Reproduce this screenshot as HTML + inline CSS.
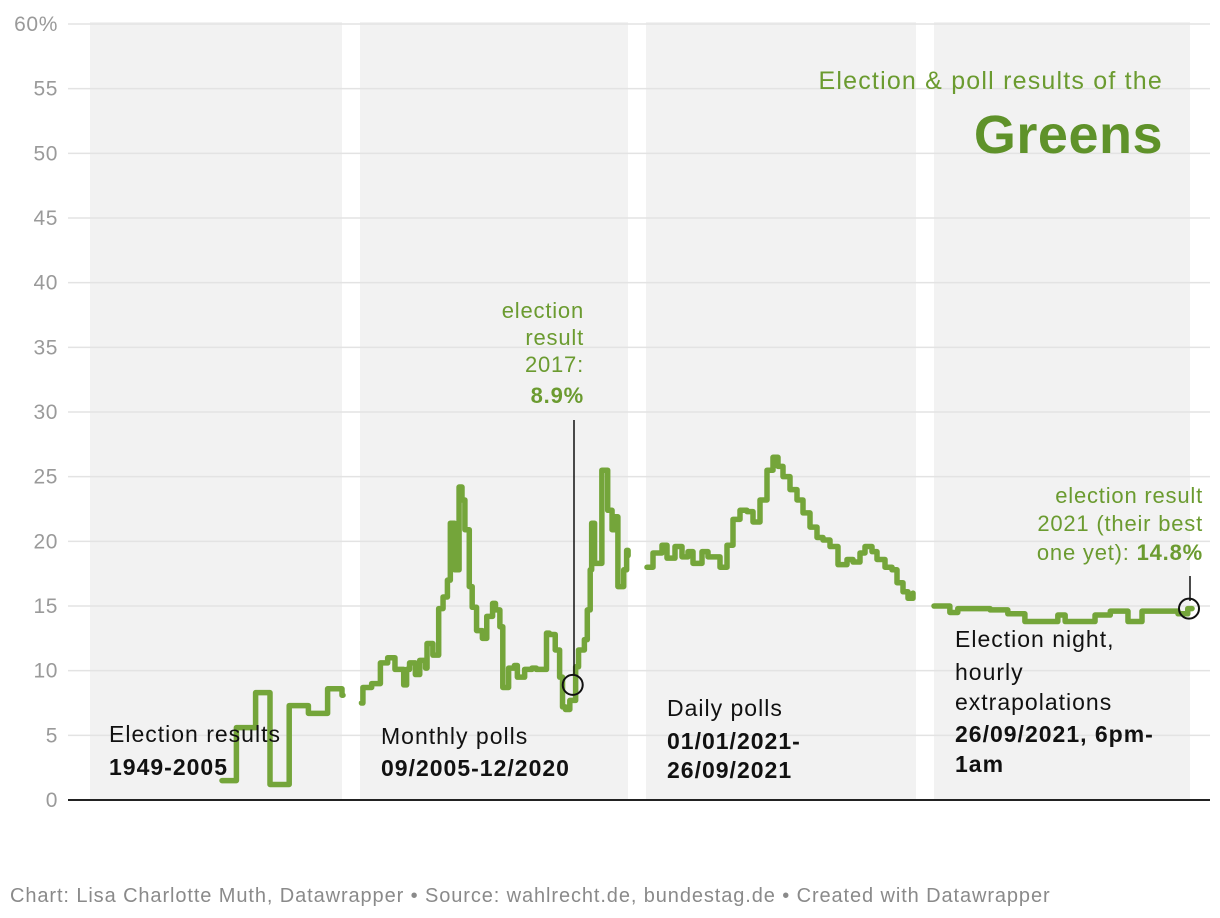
<!DOCTYPE html>
<html><head><meta charset="utf-8">
<style>
body{margin:0;background:#fff;}
svg{display:block;font-family:"Liberation Sans",sans-serif;}
</style></head>
<body>
<svg id="chart" width="1220" height="918" viewBox="0 0 1220 918"></svg>
<script>
// Panel 1: election results
const elecYears = [1980,1983,1987,1990,1994,1998,2002,2005];
const elecValues = [1.5,5.6,8.3,1.2,7.3,6.7,8.6,8.1];
// Panel 2: monthly polls (months since 09/2005)
const monthIdx = [1,2,8,14,19,24,30,32,34,38,41,45,46,50,54,57,60,62,65,68,70,72,75,77,80,84,87,91,93,96,98,102,106,108,113,118,121,125,128,130,134,137,139,141,144,148,150,154,156,158,159,161,166,170,173,175,177,181,183,184];
const monthValues = [7.5,8.7,9.0,10.6,11.0,10.1,8.9,10.1,10.6,9.7,10.8,10.2,12.1,11.2,14.8,15.7,17.0,21.4,17.8,24.2,23.2,20.9,16.5,14.9,13.1,12.5,14.2,15.2,14.7,13.4,8.7,10.2,10.4,9.5,10.1,10.2,10.1,10.1,12.9,12.8,11.6,9.5,7.2,7.0,7.7,10.3,11.6,12.4,14.7,17.8,21.4,18.3,25.5,22.4,20.9,21.9,16.5,17.8,19.3,18.9];
// Panel 3: daily polls (days since 01/01/2021)
const dayIdx = [1,7,16,21,29,36,42,47,56,62,74,81,87,94,101,107,114,121,127,132,137,144,151,157,164,171,177,184,192,201,207,214,219,226,231,239,246,251,257,262,267];
const dayValues = [18.0,19.1,19.7,18.7,19.6,18.8,19.2,18.3,19.2,18.8,18.0,19.7,21.7,22.4,22.3,21.5,23.2,25.5,26.5,25.8,25.0,24.0,23.2,22.2,21.1,20.3,20.1,19.6,18.2,18.6,18.4,19.1,19.6,19.2,18.6,18.0,17.8,16.8,16.1,15.6,16.0];
// Panel 4: election night (minutes since 18:00)
const minuteIdx = [0,26,39,92,121,149,203,215,264,289,318,341,400,416,423];
const minuteValues = [15.0,14.5,14.8,14.7,14.4,13.8,14.3,13.8,14.3,14.6,13.8,14.6,14.4,14.8,14.8];
const yTicks = [0,5,10,15,20,25,30,35,40,45,50,55,60];
const yTickLabels = ["0","5","10","15","20","25","30","35","40","45","50","55","60%"];

const NS="http://www.w3.org/2000/svg";
const svg=document.getElementById('chart');
function mk(tag,attrs,parent){const e=document.createElementNS(NS,tag);for(const k in attrs)e.setAttribute(k,attrs[k]);(parent||svg).appendChild(e);return e;}
const y=v=>800-v*12.933;
const x1=yr=>222+(yr-1980)*4.8;
const x2=m=>360+m*1.457;
const x3=d=>646+d*1.0;
const x4=mi=>934+mi*0.61;
const GREEN="#74a53a";

[[90,342],[360,628],[646,916],[934,1190]].forEach(([a,b],i)=>{
  const r=mk('rect',{x:a,y:22,width:b-a,height:778,fill:'#f2f2f2'});
  
  
});
yTicks.forEach((t,i)=>{
  if(t>0){const g=mk('line',{x1:68,x2:1210,y1:y(t),y2:y(t),stroke:'#e3e3e3','stroke-width':1.5});
  
  }
  const tx=mk('text',{x:58,y:y(t)+7,'text-anchor':'end','font-size':21,'letter-spacing':0.6,fill:'#9a9a9a'});
  tx.textContent=yTickLabels[i];
  
  
});
const ax=mk('line',{x1:68,x2:1210,y1:800,y2:800,stroke:'#222','stroke-width':2});



function stepPath(xs,vs,sx,endX){
  let d='M'+sx(xs[0])+','+y(vs[0]);
  for(let i=1;i<xs.length;i++){d+=' H'+sx(xs[i])+' V'+y(vs[i]);}
  if(endX!==undefined)d+=' H'+endX;
  return d;
}
const series=[
 ['election-results-line',stepPath(elecYears,elecValues,x1,x1(2005)+1)],
 ['monthly-polls-line',stepPath(monthIdx,monthValues,x2)],
 ['daily-polls-line',stepPath(dayIdx,dayValues,x3)],
 ['hourly-extrapolation-line',stepPath(minuteIdx,minuteValues,x4)]
];
series.forEach(([n,d])=>{
  const p=mk('path',{d:d,fill:'none',stroke:GREEN,'stroke-width':5.5,'stroke-linejoin':'round','stroke-linecap':'round'});
  
  
});

const a1=mk('line',{x1:574,x2:574,y1:420,y2:674,stroke:'#111','stroke-width':1.5});


const c1=mk('circle',{cx:x2(146),cy:y(8.9),r:10,fill:'none',stroke:'#111','stroke-width':2});


const a2=mk('line',{x1:1190,x2:1190,y1:576,y2:601,stroke:'#111','stroke-width':1.5});


const c2=mk('circle',{cx:1189,cy:y(14.8),r:10,fill:'none',stroke:'#111','stroke-width':2});



function textBlock(name,x,anchor,lines,color,size,ls){
  const g=mk('g',{});
  
  
  lines.forEach(([yy,txt,bold,bpart])=>{
    const t=mk('text',{x:x,y:yy,'text-anchor':anchor,'font-size':size,'letter-spacing':ls||0,fill:color},g);
    if(bold)t.setAttribute('font-weight','bold');
    t.textContent=txt;
    if(bpart){const s=mk('tspan',{'font-weight':'bold'},t);s.textContent=bpart;}
  });
}
textBlock('annotation-2017-text',584,'end',[[318,'election'],[345,'result'],[372,'2017:'],[403,'8.9%',true]],'#6b9b30',22,0.8);
textBlock('annotation-2021-text',1203,'end',[[503,'election result'],[531,'2021 (their best'],[560,'one yet): ',false,'14.8%']],'#6b9b30',22,0.8);
textBlock('panel-label-election-results',109,'start',[[742,'Election results'],[775,'1949-2005',true]],'#111',23,1);
textBlock('panel-label-monthly-polls',381,'start',[[744,'Monthly polls'],[776,'09/2005-12/2020',true]],'#111',23,1);
textBlock('panel-label-daily-polls',667,'start',[[716,'Daily polls'],[749,'01/01/2021-',true],[778,'26/09/2021',true]],'#111',23,1);
textBlock('panel-label-election-night',955,'start',[[647,'Election night,'],[680,'hourly'],[710,'extrapolations'],[742,'26/09/2021, 6pm-',true],[772,'1am',true]],'#111',23,1);
textBlock('chart-subtitle',1163,'end',[[89,'Election & poll results of the']],'#6b9b30',25,1.2);
textBlock('chart-title',1163,'end',[[153,'Greens',true]],'#5f922a',54,0.5);
textBlock('footer-credits',10,'start',[[902,'Chart: Lisa Charlotte Muth, Datawrapper • Source: wahlrecht.de, bundestag.de • Created with Datawrapper']],'#8a8a8a',20,0.9);
</script>
</body></html>
